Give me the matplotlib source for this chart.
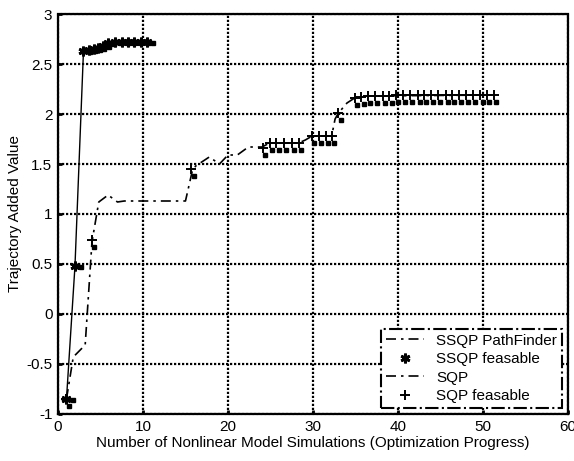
import matplotlib
matplotlib.use("Agg")
import matplotlib.pyplot as plt
from matplotlib.lines import Line2D
from matplotlib.transforms import offset_copy

plt.rcParams['font.family'] = ['Liberation Sans', 'DejaVu Sans']

# SSQP PathFinder trajectory and its feasible iterates
ssqp_x = [1, 2, 3, 3.6, 4.2, 4.7, 5.3, 5.9, 6.7, 7.5, 8.2, 9.0, 9.8, 10.5]
ssqp_y = [-0.85, 0.48, 2.63, 2.64, 2.65, 2.66, 2.68, 2.71, 2.72, 2.72, 2.72, 2.72, 2.72, 2.72]

# SQP trajectory
sqp_x = [1, 1.8, 3.2, 4.0, 4.8, 5.9, 7.0, 7.8, 15.0, 15.8, 16.2, 17.8, 19.0, 20.0, 21.1,
         22.4, 24.0, 24.9, 28.3, 29.1, 29.9, 32.2, 32.6, 33.0, 34.0, 34.9, 36.5, 51.3]
sqp_y = [-0.85, -0.43, -0.31, 0.72, 1.12, 1.19, 1.12, 1.13, 1.13, 1.43, 1.48, 1.57, 1.50, 1.59, 1.59,
         1.67, 1.67, 1.71, 1.71, 1.74, 1.78, 1.78, 1.95, 2.01, 2.11, 2.16, 2.18, 2.19]

# SQP feasible iterates
sqpf_x = [1, 4.0, 15.7, 24.1, 24.9, 25.7, 26.6, 27.5, 28.3, 29.9, 30.7, 31.5, 32.2, 33.0,
          34.9, 35.7, 36.5, 37.3, 38.2, 39.0, 39.8, 40.6, 41.4, 42.3, 43.1, 43.9, 44.7,
          45.6, 46.4, 47.2, 48.0, 48.8, 49.7, 50.5, 51.3]
sqpf_y = [-0.85, 0.74, 1.45, 1.66, 1.71, 1.71, 1.71, 1.71, 1.71, 1.78, 1.78, 1.78, 1.78, 2.01,
          2.16, 2.17, 2.18, 2.18, 2.18, 2.18, 2.19, 2.19, 2.19, 2.19, 2.19, 2.19, 2.19,
          2.19, 2.19, 2.19, 2.19, 2.19, 2.19, 2.19, 2.19]

labels = ['SSQP PathFinder', 'SSQP feasable', 'SQP', 'SQP feasable']

dashdot = (0, (6, 3, 1.5, 3))
dots = (0, (1, 0.8))

fig = plt.figure(figsize=(5.74, 4.61), dpi=100)
ax = fig.add_axes([0.101, 0.102, 0.8885, 0.8676])

ax.plot(ssqp_x, ssqp_y, color='black', lw=1.0)
ax.plot(sqp_x, sqp_y, color='black', lw=1.2, linestyle=dashdot)

ax.plot(ssqp_x, ssqp_y, linestyle='none', marker=(6, 2, 0), ms=7, mew=2.0, color='black')
ax.plot(ssqp_x, ssqp_y, linestyle='none', marker='s', ms=2.2, color='black',
        transform=offset_copy(ax.transData, fig=fig, x=4.5, y=-0.5, units='points'))

ax.plot(sqpf_x, sqpf_y, linestyle='none', marker='+', ms=7, mew=1.4, color='black')
ax.plot(sqpf_x, sqpf_y, linestyle='none', marker='s', ms=2.2, color='black',
        transform=offset_copy(ax.transData, fig=fig, x=1.5, y=-5, units='points'))

ax.set_xlim(0, 60)
ax.set_ylim(-1, 3)
ax.set_xticks(range(0, 61, 10))
ax.set_yticks([-1, -0.5, 0, 0.5, 1, 1.5, 2, 2.5, 3])
ax.set_yticklabels(['-1', '-0.5', '0', '0.5', '1', '1.5', '2', '2.5', '3'])
ax.grid(True, color='black', linestyle=dots, linewidth=1.6)
ax.tick_params(direction='in', length=3, width=2, labelsize=11, colors='black', pad=4)
for s in ax.spines.values():
    s.set_linestyle(dots)
    s.set_linewidth(1.6)

ax.set_xlabel('Number of Nonlinear Model Simulations (Optimization Progress)', fontsize=11, labelpad=2)
ax.set_ylabel('Trajectory Added Value', fontsize=11, labelpad=3)

handles = [
    Line2D([], [], color='black', lw=1.2, linestyle=dashdot),
    Line2D([], [], color='black', linestyle='none', marker=(6, 2, 0), ms=7, mew=2.0),
    Line2D([], [], color='black', lw=1.2, linestyle=dashdot),
    Line2D([], [], color='black', linestyle='none', marker='+', ms=7, mew=1.4),
]
leg = ax.legend(handles, labels, loc='lower right', bbox_to_anchor=(0.988, 0.015),
                fontsize=11, handlelength=2.5, borderaxespad=0, fancybox=False,
                framealpha=1, labelspacing=0.3, borderpad=0.3, handletextpad=0.8)
leg.get_frame().set_edgecolor('black')
leg.get_frame().set_linestyle('-.')
leg.get_frame().set_linewidth(1.5)

fig.savefig('out.png', dpi=100)
